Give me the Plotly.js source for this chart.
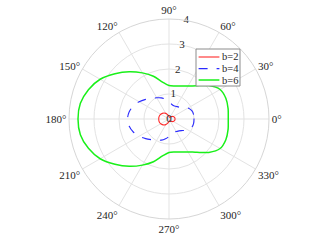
<!DOCTYPE html>
<html>
<head>
<meta charset="utf-8">
<script src="https://cdn.plot.ly/plotly-3.0.1.min.js"></script>
<style>html,body{margin:0;padding:0;background:#fff;}#chart{width:327px;height:247px;}</style>
</head>
<body>
<div id="chart"></div>
<script>
const theta = [0,10,20,30,40,50,60,70,80,90,100,110,120,130,140,150,160,170,180,
               190,200,210,220,230,240,250,260,270,280,290,300,310,320,330,340,350,360];
const r_b2 = [0.24,0.24,0.22,0.20,0.16,0.12,0.10,0.08,0.08,0.10,0.14,0.20,0.26,0.31,0.35,0.38,0.40,0.41,0.41,
              0.41,0.40,0.38,0.35,0.31,0.26,0.20,0.14,0.10,0.08,0.08,0.10,0.12,0.16,0.20,0.22,0.24,0.24];
const r_b4 = [1.00,1.00,0.97,0.88,0.72,0.62,0.58,0.56,0.60,0.70,0.80,0.90,0.98,1.08,1.22,1.38,1.52,1.62,1.66,
              1.62,1.52,1.38,1.22,1.08,0.98,0.90,0.80,0.70,0.60,0.56,0.58,0.62,0.72,0.88,0.97,1.00,1.00];
const r_b6 = [2.37,2.40,2.42,2.36,2.08,1.74,1.52,1.40,1.34,1.34,1.50,1.82,2.13,2.47,2.82,3.18,3.43,3.60,3.64,
              3.60,3.43,3.18,2.82,2.47,2.13,1.82,1.50,1.34,1.34,1.40,1.52,1.74,2.08,2.36,2.42,2.40,2.37];
const names = ['b=2','b=4','b=6'];
const colors = ['#ff2a2a','#2a2aff','#19f019'];
const dashes = ['solid','dash','solid'];
const widths = [1.1,1.1,1.5];
const radialTicks = [0,1,2,3,4];
const radialLabelAngle = 80;
const angleTicks = [0,30,60,90,120,150,180,210,240,270,300,330];
const angleLabels = angleTicks.map(a => a + '°');
const FONT = 'Times New Roman';

const series = [r_b2, r_b4, r_b6];
const traces = series.map((r, i) => ({
  type:'scatterpolar', r:r, theta:theta, name:names[i], mode:'lines', showlegend:false,
  line:{color:colors[i], width:widths[i], dash:dashes[i], shape:'spline', smoothing:0.8}
}));
traces.push({
  type:'scatterpolar', mode:'text', r:radialTicks, theta:radialTicks.map(() => radialLabelAngle),
  text:radialTicks.map(String), textposition:'middle center', showlegend:false, cliponaxis:false,
  textfont:{family:FONT, size:11, color:'#262626'}
});

const legBox = {x0:0.635, x1:0.855, y0:0.665, y1:0.85};
const legRows = [0.81, 0.752, 0.695];
const shapes = [{type:'rect', xref:'paper', yref:'paper', x0:legBox.x0, x1:legBox.x1, y0:legBox.y0, y1:legBox.y1,
                 line:{color:'#8c8c8c', width:1}, fillcolor:'#fff', layer:'above'}];
const annotations = [];
names.forEach((n, i) => {
  shapes.push({type:'line', xref:'paper', yref:'paper', x0:0.648, x1:0.752, y0:legRows[i], y1:legRows[i],
               line:{color:colors[i], width:widths[i], dash:dashes[i]}, layer:'above'});
  annotations.push({xref:'paper', yref:'paper', x:0.755, y:legRows[i], xanchor:'left', yanchor:'middle',
                    text:n, showarrow:false, font:{family:FONT, size:10.5, color:'#262626'}});
});

const layout = {
  width:327, height:247,
  margin:{l:69, r:58, t:19, b:28},
  paper_bgcolor:'#fff',
  font:{family:FONT, size:11, color:'#262626'},
  showlegend:false,
  shapes:shapes, annotations:annotations,
  polar:{
    domain:{x:[0,1], y:[0,1]},
    bgcolor:'#fff',
    radialaxis:{range:[0,4], tickvals:radialTicks, showticklabels:false,
                showline:false, ticks:'', gridcolor:'#e3e3e3'},
    angularaxis:{tickmode:'array', tickvals:angleTicks, ticktext:angleLabels, direction:'counterclockwise',
                 rotation:0, gridcolor:'#e3e3e3', linecolor:'#d6d6d6', ticks:'',
                 tickfont:{family:FONT, size:11, color:'#262626'}}
  }
};
Plotly.newPlot('chart', traces, layout, {staticPlot:true});
</script>
</body>
</html>
